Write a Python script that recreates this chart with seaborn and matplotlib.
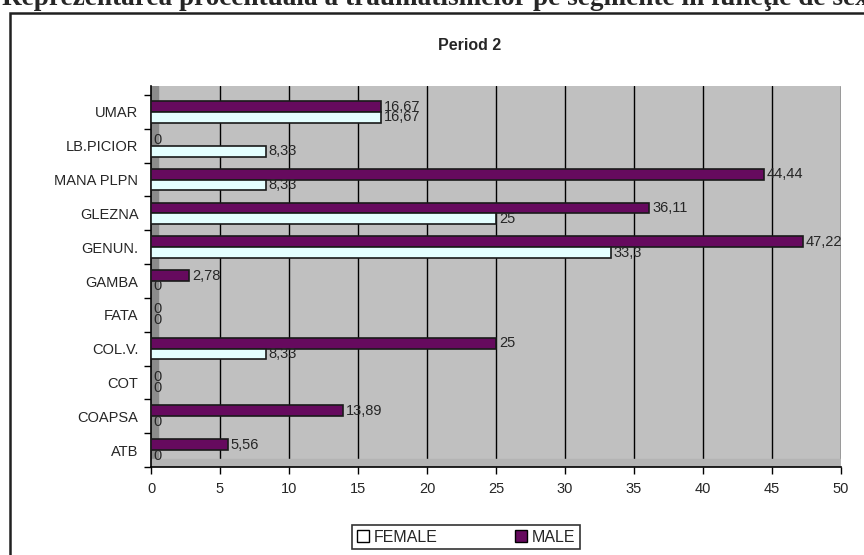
import pandas as pd
import numpy as np
import matplotlib
matplotlib.use('Agg')
import matplotlib.pyplot as plt
import matplotlib.patches as mpatches
import seaborn as sns

# Data (top to bottom)
segments = ['UMAR', 'LB.PICIOR', 'MANA PLPN', 'GLEZNA', 'GENUN.', 'GAMBA',
            'FATA', 'COL.V.', 'COT', 'COAPSA', 'ATB']
male = [16.67, 0, 44.44, 36.11, 47.22, 2.78, 0, 25, 0, 13.89, 5.56]
female = [16.67, 8.33, 8.33, 25, 33.3, 0, 0, 8.33, 0, 0, 0]
x_ticks = [0, 5, 10, 15, 20, 25, 30, 35, 40, 45, 50]

df = pd.DataFrame({
    'segment': segments * 2,
    'pct': male + female,
    'sex': ['MALE'] * len(segments) + ['FEMALE'] * len(segments),
})

sns.set_style('white')
plt.rcParams['font.family'] = ['Liberation Sans', 'DejaVu Sans']

male_col = '#660a5e'
female_col = '#e4ffff'
bg_col = '#c0c0c0'

fig = plt.figure(figsize=(8.64, 5.55), dpi=100)
ax = fig.add_axes([151 / 864, 1 - 467 / 555, 690 / 864, (467 - 86) / 555])

# chart area border (cut off at the right and bottom)
fig.patches.append(mpatches.Rectangle((10 / 864, -0.05), 1.0, 1 - 12.5 / 555 + 0.05,
                                      transform=fig.transFigure, fill=False,
                                      edgecolor='#202020', linewidth=1.8))

# cropped heading above the chart
fig.text(0.002, 1 - 5 / 555, 'Reprezentarea procentuală a traumatismelor pe segmente '
         'în funcţie de sex', family='Liberation Serif', fontweight='bold',
         fontsize=19.6, ha='left', va='baseline')

fig.text(470 / 864, 1 - 45 / 555, 'Period 2', fontsize=11.5, fontweight='bold',
         ha='center', va='center')

ax.set_facecolor(bg_col)
sns.barplot(data=df, y='segment', x='pct', hue='sex', orient='h',
            order=segments, hue_order=['MALE', 'FEMALE'],
            palette={'MALE': male_col, 'FEMALE': female_col},
            edgecolor='#1a1a1a', linewidth=1.2, width=0.64, saturation=1,
            legend=False, ax=ax, zorder=3)

# left wall and floor of the pseudo-3D chart
ax.axvspan(0, 0.5, color='#8c8c8c', zorder=2)
ax.axhspan(10.5, 10.25, color='#b4b4b4', zorder=2)

for cont, vals in zip(ax.containers, [male, female]):
    labels = [f'{v:g}'.replace('.', ',') for v in vals]
    ax.bar_label(cont, labels=labels, padding=2, fontsize=10.5, zorder=4)

ax.set_xlim(0, 50)
ax.set_ylim(10.5, -0.5 - 9 / 33.8)
ax.set_xticks(x_ticks)
ax.set_yticks(np.arange(-0.5, 11, 1), minor=True)
ax.xaxis.grid(True, color='black', linewidth=1.0, zorder=1)
ax.set_axisbelow(True)
ax.set_xlabel('')
ax.set_ylabel('')
ax.tick_params(axis='x', labelsize=10.5, length=5, width=1, color='black',
               direction='out', bottom=True, pad=6)
ax.tick_params(axis='y', which='major', labelsize=10.5, length=0, pad=9)
ax.tick_params(axis='y', which='minor', length=5, width=1, color='black',
               direction='out', left=True)
for side in ['top', 'right']:
    ax.spines[side].set_visible(False)
for side in ['left', 'bottom']:
    ax.spines[side].set_color('black')
    ax.spines[side].set_linewidth(1.2)

handles = [mpatches.Patch(facecolor='white', edgecolor='black', label='FEMALE'),
           mpatches.Patch(facecolor=male_col, edgecolor='black', label='MALE')]
leg = fig.legend(handles=handles, loc='center', bbox_to_anchor=(466 / 864, 1 - 537 / 555),
                 ncol=2, frameon=True, fontsize=11.5, handlelength=0.75,
                 handleheight=0.75, handletextpad=0.3, columnspacing=4.8,
                 borderpad=0.3, borderaxespad=0, fancybox=False)
leg.get_frame().set_edgecolor('black')
leg.get_frame().set_linewidth(1.2)

fig.savefig('out.png', dpi=100)
